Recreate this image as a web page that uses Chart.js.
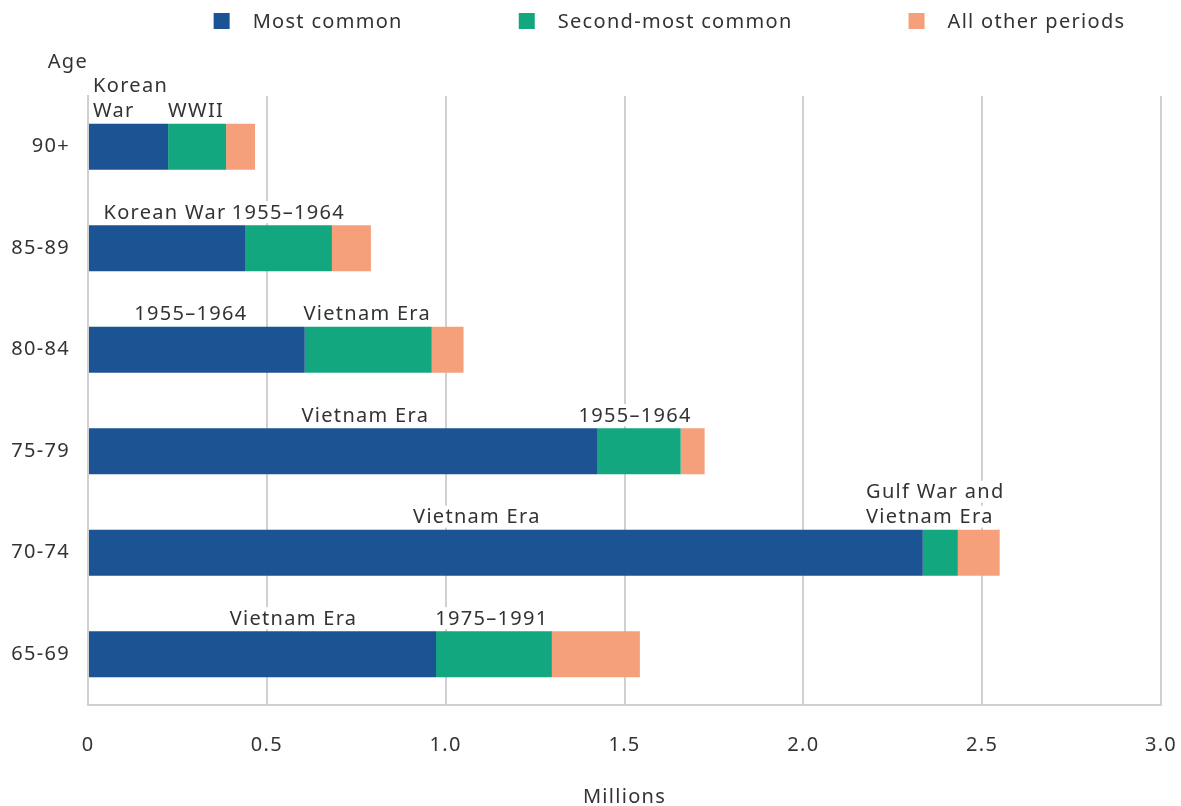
<!DOCTYPE html>
<html>
<head>
<meta charset="utf-8">
<title>Veterans by age and service period</title>
<script src="https://cdn.jsdelivr.net/npm/chart.js@4.4.1/dist/chart.umd.min.js"></script>
<style>
  html, body { margin: 0; padding: 0; background: #ffffff; }
  #wrap { width: 1181px; height: 806px; position: relative; }
</style>
</head>
<body>
<div id="wrap"><canvas id="chart" width="1181" height="806"></canvas></div>
<script>
// Age groups, oldest first (top to bottom)
const ageGroups = ['90+', '85-89', '80-84', '75-79', '70-74', '65-69'];

// Veterans in millions, by service period rank within each age group
const mostCommon = [0.224, 0.439, 0.606, 1.425, 2.334, 0.973];
const secondMostCommon = [0.162, 0.243, 0.355, 0.232, 0.098, 0.324];
const allOtherPeriods = [0.081, 0.109, 0.089, 0.067, 0.117, 0.246];

// Name of the period shown above each segment (one entry per text line)
const mostCommonNames = [['Korean', 'War'], ['Korean War'], ['1955–1964'], ['Vietnam Era'], ['Vietnam Era'], ['Vietnam Era']];
const secondMostNames = [['WWII'], ['1955–1964'], ['Vietnam Era'], ['1955–1964'], ['Gulf War and', 'Vietnam Era'], ['1975–1991']];

// Value axis
const xTickValues = [0, 0.5, 1.0, 1.5, 2.0, 2.5, 3.0];
const xTickLabels = ['0', '0.5', '1.0', '1.5', '2.0', '2.5', '3.0'];

const FONT = '"Noto Sans", "Open Sans", sans-serif';
const TRACKING = '1.3px';
const TEXT = '#333333';
const GRID = '#d0d0d0';
const COLORS = ['#1b5393', '#12a77e', '#f6a07b'];

// Slightly open letter spacing for every piece of text on the canvas
const tracking = {
  id: 'tracking',
  beforeDraw(chart) { chart.ctx.letterSpacing = TRACKING; }
};

// Legend row across the top
const topLegend = {
  id: 'topLegend',
  afterDraw(chart, args, opts) {
    const ctx = chart.ctx;
    ctx.save();
    ctx.letterSpacing = TRACKING;
    ctx.font = '20px ' + FONT;
    ctx.textBaseline = 'middle';
    ctx.textAlign = 'left';
    const items = chart.data.datasets.map(d => ({ text: d.label, color: d.backgroundColor, w: ctx.measureText(d.label).width }));
    const box = 16, textGap = 23, itemGap = 116;
    let total = 0;
    items.forEach((it, i) => { total += box + textGap + it.w + (i < items.length - 1 ? itemGap : 0); });
    let x = opts.centerX - total / 2;
    const y = opts.y;
    items.forEach(it => {
      ctx.fillStyle = it.color;
      ctx.fillRect(x, y - box / 2, box, box);
      ctx.fillStyle = TEXT;
      ctx.fillText(it.text, x + box + textGap, y + 1);
      x += box + textGap + it.w + itemGap;
    });
    ctx.restore();
  }
};

// "Age" heading over the category axis
const axisHeading = {
  id: 'axisHeading',
  afterDraw(chart) {
    const ctx = chart.ctx;
    ctx.save();
    ctx.letterSpacing = TRACKING;
    ctx.font = '20px ' + FONT;
    ctx.fillStyle = TEXT;
    ctx.textAlign = 'right';
    ctx.textBaseline = 'middle';
    ctx.fillText('Age', chart.chartArea.left, 62);
    ctx.restore();
  }
};

// Period names written above the first two segments of each bar
const segmentNames = {
  id: 'segmentNames',
  afterDatasetsDraw(chart, args, opts) {
    const ctx = chart.ctx;
    ctx.save();
    ctx.letterSpacing = TRACKING;
    ctx.font = '20px ' + FONT;
    ctx.textAlign = 'left';
    ctx.textBaseline = 'middle';
    const lineH = 25;
    [mostCommonNames, secondMostNames].forEach((names, di) => {
      const meta = chart.getDatasetMeta(di);
      meta.data.forEach((bar, i) => {
        const lines = names[i];
        const cx = (bar.x + bar.base) / 2 + opts.nudge[di][i];
        const top = bar.y - bar.height / 2;
        const blockW = Math.max(...lines.map(l => ctx.measureText(l).width));
        const left = cx - blockW / 2;
        lines.forEach((line, li) => {
          const cy = top - 13 - (lines.length - 1 - li) * lineH;
          const w = ctx.measureText(line).width;
          ctx.fillStyle = '#ffffff';
          ctx.fillRect(left - 3, cy - 11, w + 6, 22);
          ctx.fillStyle = TEXT;
          ctx.fillText(line, left, cy + 1);
        });
      });
    });
    ctx.restore();
  }
};

new Chart(document.getElementById('chart'), {
  type: 'bar',
  data: {
    labels: ageGroups,
    datasets: [
      { label: 'Most common', data: mostCommon, backgroundColor: COLORS[0] },
      { label: 'Second-most common', data: secondMostCommon, backgroundColor: COLORS[1] },
      { label: 'All other periods', data: allOtherPeriods, backgroundColor: COLORS[2] }
    ]
  },
  options: {
    indexAxis: 'y',
    responsive: false,
    animation: false,
    events: [],
    layout: { padding: { top: 96, right: 20, left: 0, bottom: 0 } },
    datasets: { bar: { categoryPercentage: 1.0, barPercentage: 0.455, borderWidth: 0 } },
    plugins: {
      legend: { display: false },
      tooltip: { enabled: false },
      topLegend: { centerX: 669.5, y: 21 },
      segmentNames: { nudge: [[2, -2, -6, 22, -29, 31], [-1, 0, -1, -4, -5, -2]] }
    },
    scales: {
      x: {
        stacked: true,
        min: 0,
        max: 3,
        afterBuildTicks(scale) { scale.ticks = xTickValues.map(v => ({ value: v })); },
        afterFit(scale) { scale.height = 101; scale.paddingLeft = 0; scale.paddingRight = 0; },
        ticks: {
          padding: 28,
          color: TEXT,
          font: { family: FONT, size: 20 },
          maxRotation: 0,
          callback: (v, i) => xTickLabels[i]
        },
        grid: { color: GRID, lineWidth: 2, drawTicks: false },
        border: { display: true, color: GRID, width: 2 },
        title: {
          display: true,
          text: 'Millions',
          color: TEXT,
          font: { family: FONT, size: 20 },
          padding: { top: 10, bottom: -3 }
        }
      },
      y: {
        stacked: true,
        afterFit(scale) { scale.width = 88; scale.paddingTop = 0; scale.paddingBottom = 0; },
        ticks: { padding: 18, color: TEXT, font: { family: FONT, size: 20 } },
        grid: { display: false, drawTicks: false },
        border: { display: true, color: GRID, width: 2 }
      }
    }
  },
  plugins: [tracking, topLegend, axisHeading, segmentNames]
});
</script>
</body>
</html>
